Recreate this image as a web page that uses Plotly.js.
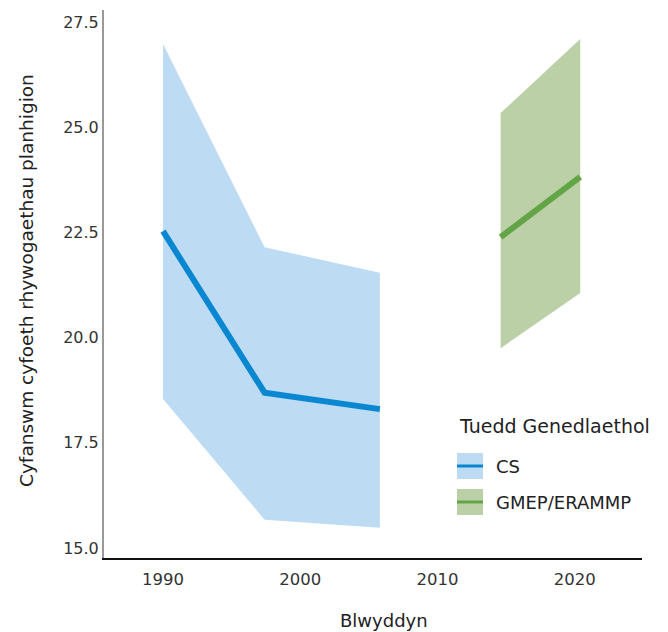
<!DOCTYPE html>
<html>
<head>
<meta charset="utf-8">
<script src="https://cdn.plot.ly/plotly-3.0.1.min.js"></script>
<style>html,body{margin:0;padding:0;background:#fff;}#chart{width:668px;height:632px;}</style>
</head>
<body>
<div id="chart"></div>
<script>
// CS (Countryside Survey)
const csYears = [1990, 1997.4, 2005.8];
const csMean  = [22.53, 18.69, 18.30];
const csUpper = [26.98, 22.15, 21.54];
const csLower = [18.54, 15.67, 15.48];

// GMEP/ERAMMP
const gmYears = [2014.6, 2020.4];
const gmMean  = [22.39, 23.82];
const gmUpper = [25.34, 27.10];
const gmLower = [19.75, 21.06];

const seriesNames = ['CS', 'GMEP/ERAMMP'];
const legendTitle = 'Tuedd Genedlaethol';
const xTicks = [1990, 2000, 2010, 2020];
const yTicks = [15.0, 17.5, 20.0, 22.5, 25.0, 27.5];
const xTitle = 'Blwyddyn';
const yTitle = 'Cyfanswm cyfoeth rhywogaethau planhigion';

const colors = {
  csFill: '#bddcf4', csLine: '#0a87d1',
  gmFill: '#bbd0a6', gmLine: '#62a446'
};

function band(xs, up, lo) {
  return {
    x: xs.concat(xs.slice().reverse()),
    y: up.concat(lo.slice().reverse())
  };
}

const csBand = band(csYears, csUpper, csLower);
const gmBand = band(gmYears, gmUpper, gmLower);

const FONT = 'DejaVu Sans, Open Sans, sans-serif';

const traces = [
  {x: csBand.x, y: csBand.y, type: 'scatter', mode: 'none', fill: 'toself',
   fillcolor: colors.csFill, showlegend: false, hoverinfo: 'skip'},
  {x: gmBand.x, y: gmBand.y, type: 'scatter', mode: 'none', fill: 'toself',
   fillcolor: colors.gmFill, showlegend: false, hoverinfo: 'skip'},
  {x: csYears, y: csMean, type: 'scatter', mode: 'lines', name: seriesNames[0],
   line: {color: colors.csLine, width: 6}, showlegend: false},
  {x: gmYears, y: gmMean, type: 'scatter', mode: 'lines', name: seriesNames[1],
   line: {color: colors.gmLine, width: 6}, showlegend: false}
];

// plot area in pixels: l=104, r=642, t=10, b=558
const L = 104, R = 642, T = 10, B = 558;
const px = v => (v - L) / (R - L);
const py = v => (B - v) / (B - T);

const legendItems = [
  {name: seriesNames[0], fill: colors.csFill, line: colors.csLine, top: 453},
  {name: seriesNames[1], fill: colors.gmFill, line: colors.gmLine, top: 489}
];

const shapes = [];
const annotations = [
  {text: legendTitle, xref: 'paper', yref: 'paper', x: px(457), y: py(426),
   xanchor: 'left', yanchor: 'middle', showarrow: false,
   font: {family: FONT, size: 19, color: '#222'}},
  {text: xTitle, xref: 'paper', yref: 'paper', x: px(384), y: py(620),
   xanchor: 'center', yanchor: 'middle', showarrow: false,
   font: {family: FONT, size: 18, color: '#222'}},
  {text: yTitle, xref: 'paper', yref: 'paper', x: px(26), y: py(281),
   xanchor: 'center', yanchor: 'middle', showarrow: false, textangle: -90,
   font: {family: FONT, size: 18.5, color: '#222'}}
];
legendItems.forEach(it => {
  shapes.push({type: 'rect', xref: 'paper', yref: 'paper',
    x0: px(457), x1: px(483), y0: py(it.top + 26), y1: py(it.top),
    fillcolor: it.fill, line: {width: 0}, layer: 'above'});
  shapes.push({type: 'line', xref: 'paper', yref: 'paper',
    x0: px(457), x1: px(483), y0: py(it.top + 13), y1: py(it.top + 13),
    line: {color: it.line, width: 3}, layer: 'above'});
  annotations.push({text: it.name, xref: 'paper', yref: 'paper',
    x: px(494), y: py(it.top + 13), xanchor: 'left', yanchor: 'middle',
    showarrow: false, font: {family: FONT, size: 18, color: '#222'}});
});

const layout = {
  width: 668, height: 632,
  margin: {l: L, r: 668 - R, t: T, b: 632 - B},
  paper_bgcolor: '#fff', plot_bgcolor: '#fff',
  font: {family: FONT, color: '#222'},
  showlegend: false,
  xaxis: {
    range: [1985.7, 2024.9], tickvals: xTicks, ticktext: xTicks.map(String),
    showgrid: false, zeroline: false, showline: true, linecolor: '#111', linewidth: 1.5,
    ticks: '', ticklabelstandoff: 6, tickfont: {family: FONT, size: 16.5, color: '#333'}
  },
  yaxis: {
    range: [14.76, 27.79], tickvals: yTicks, ticktext: yTicks.map(v => v.toFixed(1)),
    showgrid: false, zeroline: false, showline: true, linecolor: '#999', linewidth: 2,
    ticks: '', tickfont: {family: FONT, size: 16, color: '#333'}
  },
  shapes: shapes,
  annotations: annotations
};

Plotly.newPlot('chart', traces, layout, {displayModeBar: false, staticPlot: true});
</script>
</body>
</html>
